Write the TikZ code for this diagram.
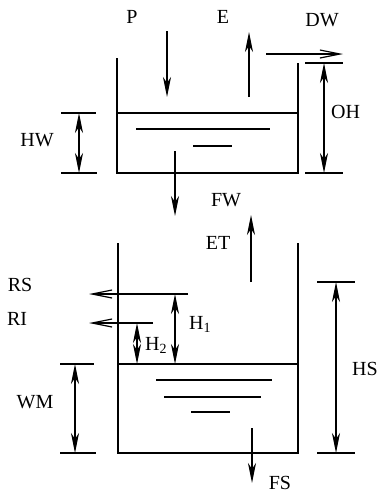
\documentclass[tikz,border=0pt]{standalone}
\usepackage{fontspec}
\setmainfont{Liberation Serif}
\usetikzlibrary{arrows.meta}
\begin{document}
\begin{tikzpicture}[x=1pt,y=-1pt,
  wall/.style={line width=1.5pt},
  thin/.style={line width=1.2pt},
  flow/.style={line width=1.2pt,-{Stealth[length=20pt,width=8pt,inset=6pt]}},
  hflow/.style={line width=1.2pt,-{Straight Barb[length=20pt,width=8pt]}},
  dim/.style={line width=1.2pt,{Stealth[length=20pt,width=8pt,inset=6pt]}-{Stealth[length=20pt,width=8pt,inset=6pt]}},
  lbl/.style={font=\fontsize{20}{22}\selectfont,inner sep=0pt}]
\useasboundingbox (0,0) rectangle (380,493);
% upper tank
\draw[wall] (117,58) -- (117,173) -- (298,173) -- (298,63);
\draw[wall] (117,113) -- (298,113);
\draw[thin] (136,129) -- (270,129);
\draw[thin] (193,146) -- (232,146);
% upper flows
\coordinate (pa) at (167,31); \coordinate (pb) at (167,97);
\draw[flow] (pa) -- (pb);
\node[lbl] (P) at (132,17) {P};
\coordinate (ea) at (249,97); \coordinate (eb) at (249,32);
\draw[flow] (ea) -- (eb);
\node[lbl] (E) at (223,17) {E};
\coordinate (da) at (266,54); \coordinate (db) at (343,54);
\draw[hflow] (da) -- (db);
\node[lbl] (DW) at (322,20) {DW};
% OH dimension
\draw[thin] (305,63) -- (343,63);
\draw[thin] (305,173) -- (343,173);
\coordinate (oha) at (324,63); \coordinate (ohb) at (324,173);
\draw[dim] (oha) -- (ohb);
\node[lbl,anchor=west] (OH) at (331,112) {OH};
% HW dimension
\draw[thin] (61,113) -- (96,113);
\draw[thin] (61,173) -- (97,173);
\coordinate (hwa) at (79,113); \coordinate (hwb) at (79,173);
\draw[dim] (hwa) -- (hwb);
\node[lbl] (HW) at (37,140) {HW};
% FW
\coordinate (fwa) at (175,151); \coordinate (fwb) at (175,216);
\draw[flow] (fwa) -- (fwb);
\node[lbl] (FW) at (226,200) {FW};
% lower tank
\draw[wall] (118,243) -- (118,453) -- (298,453) -- (298,243);
\draw[wall] (118,364) -- (298,364);
\draw[thin] (156,380) -- (272,380);
\draw[thin] (164,397) -- (261,397);
\draw[thin] (191,412) -- (230,412);
% ET
\coordinate (eta) at (251,282); \coordinate (etb) at (251,215);
\draw[flow] (eta) -- (etb);
\node[lbl] (ET) at (218,243) {ET};
% FS
\coordinate (fsa) at (252,428); \coordinate (fsb) at (252,483);
\draw[flow] (fsa) -- (fsb);
\node[lbl] (FS) at (280,483) {FS};
% RS, RI
\coordinate (rsa) at (188,294); \coordinate (rsb) at (89,294);
\draw[hflow] (rsa) -- (rsb);
\node[lbl] (RS) at (20,285) {RS};
\coordinate (ria) at (153,323); \coordinate (rib) at (89,323);
\draw[hflow] (ria) -- (rib);
\node[lbl] (RI) at (17,319) {RI};
% H1, H2
\coordinate (h1a) at (175,294); \coordinate (h1b) at (175,364);
\draw[dim] (h1a) -- (h1b);
\node[lbl,anchor=base west] (H1) at (189,329) {H\textsubscript{1}};
\coordinate (h2a) at (137,323); \coordinate (h2b) at (137,364);
\draw[dim] (h2a) -- (h2b);
\node[lbl,anchor=base west] (H2) at (145,350) {H\textsubscript{2}};
% HS
\draw[thin] (317,282) -- (355,282);
\draw[thin] (317,453) -- (355,453);
\coordinate (hsa) at (336,282); \coordinate (hsb) at (336,453);
\draw[dim] (hsa) -- (hsb);
\node[lbl] (HS) at (365,369) {HS};
% WM
\draw[thin] (60,364) -- (94,364);
\draw[thin] (60,453) -- (96,453);
\coordinate (wma) at (75,364); \coordinate (wmb) at (75,453);
\draw[dim] (wma) -- (wmb);
\node[lbl] (WM) at (35,402) {WM};
\end{tikzpicture}
\end{document}
